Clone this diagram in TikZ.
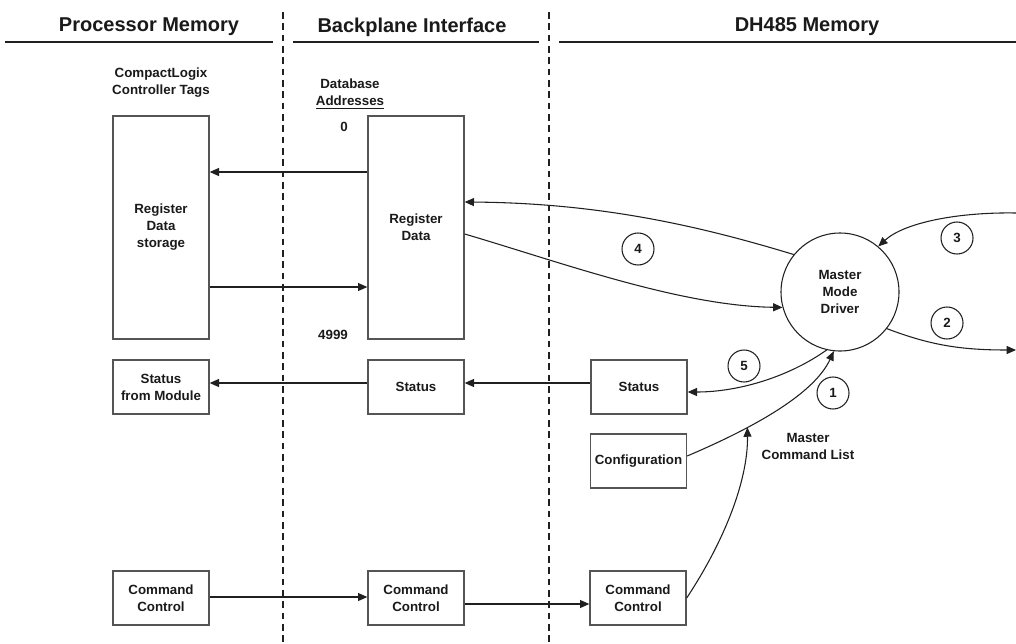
\documentclass[tikz,border=0pt]{standalone}
\usepackage{fontspec}
\setmainfont{Liberation Sans}
\usetikzlibrary{arrows.meta,calc}
\definecolor{linecol}{HTML}{202020}
\definecolor{boxgray}{HTML}{555555}
\definecolor{txt}{HTML}{1A1A1A}
\begin{document}
\begin{tikzpicture}[x=0.75pt,y=-0.75pt,
  font=\fontsize{10}{12.75}\selectfont\bfseries,
  box/.style={draw=boxgray,line width=1pt,inner sep=0pt,align=center,minimum width=72pt,minimum height=40.5pt,text=txt},
  tall/.style={box,minimum height=167.25pt},
  conn/.style={draw=linecol,line width=0.8pt,-{Triangle[length=7pt,width=6pt]}},
  num/.style={circle,draw=linecol,line width=0.8pt,minimum size=24pt,inner sep=0pt,text=txt},
  hdr/.style={font=\fontsize{15}{18}\selectfont\bfseries,text=txt},
  hline/.style={draw=linecol,line width=1.1pt},
  divider/.style={draw=linecol,line width=1.1pt,dash pattern=on 5pt off 3.5pt},
  lbl/.style={text=txt,align=center,inner sep=0pt}
]
\useasboundingbox[fill=white] (0,0) rectangle (1016,643);

% headers
\node[hdr] (h1) at (149,27) {Processor Memory};
\node[hdr] (h2) at (412,27) {Backplane Interface};
\node[hdr] (h3) at (807,27) {DH485 Memory};
\coordinate (l1a) at (5,42);   \coordinate (l1b) at (273,42);
\coordinate (l2a) at (293,42); \coordinate (l2b) at (539,42);
\coordinate (l3a) at (559,42); \coordinate (l3b) at (1016,42);
\draw[hline] (l1a) -- (l1b);
\draw[hline] (l2a) -- (l2b);
\draw[hline] (l3a) -- (l3b);
\coordinate (d1a) at (283,12); \coordinate (d1b) at (283,643);
\coordinate (d2a) at (549,12); \coordinate (d2b) at (549,643);
\draw[divider] (d1a) -- (d1b);
\draw[divider] (d2a) -- (d2b);

% labels
\node[lbl] (cltags) at (161,83) {CompactLogix\\Controller Tags};
\node[lbl] (dbaddr) at (350,94) {Database\\\underline{Addresses}};
\node[lbl] (zero) at (344,127) {0};
\node[lbl] (last) at (333,335) {4999};
\node[lbl] (mcl) at (808,446) {Master\\Command List};

% boxes
\node[tall] (storage) at (161,227.5) {Register\\Data\\storage};
\node[tall] (rd) at (416,227.5) {Register\\Data};
\node[box] (sfm) at (161,387) {Status\\from Module};
\node[box] (bpstat) at (416,387) {Status};
\node[box] (dhstat) at (639,387) {Status};
\node[box] (cfg) at (638.5,461) {Configuration};
\node[box] (pmcmd) at (161,598) {Command\\Control};
\node[box] (bpcmd) at (416,598) {Command\\Control};
\node[box] (dhcmd) at (638,598) {Command\\Control};

% driver
\node[circle,draw=linecol,line width=0.8pt,minimum size=88.5pt,inner sep=0pt,align=center,text=txt] (mmd) at (840,292) {Master\\Mode\\Driver};

% step numbers
\node[num] (n4) at (638,249) {4};
\node[num] (n3) at (957,238) {3};
\node[num] (n2) at (947,323) {2};
\node[num] (n5) at (744,366) {5};
\node[num] (n1) at (833,393) {1};

% edge coordinates
\coordinate (e3) at (1016,213);
\coordinate (e2) at (1016,350);

% connectors
\draw[conn] (rd.west |- 0,172) -- (storage.east |- 0,172);
\draw[conn] (storage.east |- 0,287) -- (rd.west |- 0,287);
\draw[conn] (mmd.141) .. controls (700,226) and (600,203) .. (rd.east |- 0,202);
\draw[conn] (rd.east |- 0,234) .. controls (560,262) and (680,306) .. (mmd.195);
\draw[conn] (e3) .. controls (960,212) and (905,222) .. (mmd.50);
\draw[conn] (mmd.322) .. controls (930,345) and (960,350) .. (e2);
\draw[conn] (mmd.257) .. controls (790,376) and (740,392) .. (dhstat.east |- 0,392);
\draw[conn] (dhstat.west |- 0,383) -- (bpstat.east |- 0,383);
\draw[conn] (bpstat.west |- 0,383) -- (sfm.east |- 0,383);
\draw[conn] (cfg.east |- 0,456) .. controls (760,425) and (815,392) .. (mmd.264) coordinate[pos=0.3] (join);
\draw[conn] (dhcmd.east) .. controls (725,540) and (748,480) .. (join);
\draw[conn] (pmcmd.east |- 0,597) -- (bpcmd.west |- 0,597);
\draw[conn] (bpcmd.east |- 0,604) -- (dhcmd.west |- 0,604);
\end{tikzpicture}
\end{document}
